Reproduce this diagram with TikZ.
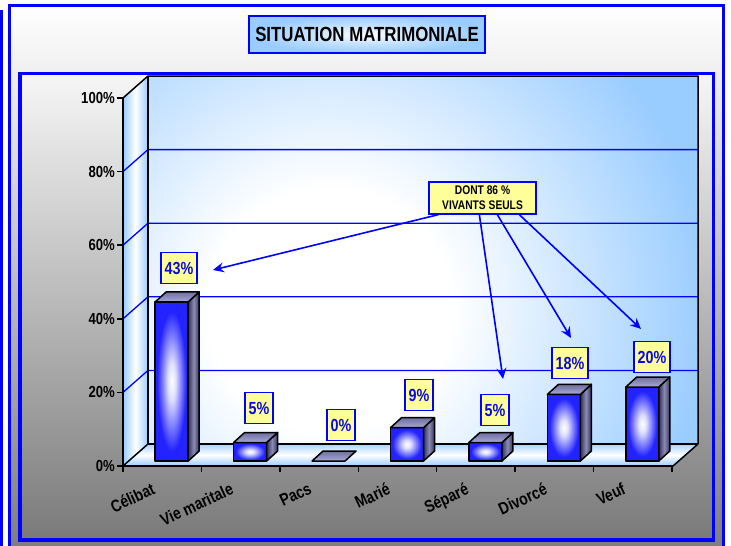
\documentclass[tikz,border=0pt]{standalone}
\usepackage{fontspec}
\setmainfont{Liberation Sans}[FakeStretch=0.82]
\usetikzlibrary{arrows.meta}

\definecolor{frameblue}{RGB}{0,0,255}
\definecolor{wallblue}{RGB}{153,204,255}
\definecolor{barblue}{RGB}{35,35,255}
\definecolor{sidedark}{RGB}{50,50,100}
\definecolor{sidelight}{RGB}{140,140,175}
\definecolor{topdark}{RGB}{110,110,160}
\definecolor{toplight}{RGB}{170,170,215}
\definecolor{noteyellow}{RGB}{255,255,153}
\definecolor{valblue}{RGB}{10,10,230}
\definecolor{greytop}{RGB}{246,246,246}
\definecolor{greybottom}{RGB}{122,122,122}

\pgfdeclareradialshading{barglow}{\pgfpointorigin}{color(0bp)=(white); color(6bp)=(white!85!barblue); color(22bp)=(barblue); color(50bp)=(barblue)}
\pgfdeclareradialshading{wallglow}{\pgfpointorigin}{color(0bp)=(white); color(8bp)=(white); color(25bp)=(wallblue); color(50bp)=(wallblue)}
\pgfdeclareradialshading{titleglow}{\pgfpointorigin}{color(0bp)=(white); color(12bp)=(wallblue!55!white); color(25bp)=(wallblue); color(50bp)=(wallblue)}

\begin{document}
\begin{tikzpicture}[x=1pt,y=-1pt,
  frameline/.style={frameblue,line width=3.5pt},
  faceline/.style={black,line width=1.5pt,line join=round},
  gridline/.style={frameblue,line width=1.3pt},
  titlebox/.style={draw=frameblue,line width=1.5pt,shade,shading=titleglow,
    minimum width=236pt,minimum height=37pt,inner sep=0pt,
    font=\fontsize{20.5}{20.5}\selectfont\bfseries},
  valbox/.style={draw=frameblue,line width=1.3pt,fill=noteyellow,text=valblue,
    font=\fontsize{17.5}{17.5}\selectfont\bfseries,inner xsep=3.5pt,
    minimum height=31pt},
  notebox/.style={draw=frameblue,line width=1.3pt,fill=noteyellow,align=center,
    font=\fontsize{12.5}{15}\selectfont\bfseries,minimum width=107pt,
    minimum height=32pt,inner sep=1pt},
  ylab/.style={anchor=east,inner sep=0pt,font=\fontsize{16}{16}\selectfont\bfseries},
  catlab/.style={anchor=north east,rotate=25,inner sep=0pt,
    font=\fontsize{17}{17}\selectfont\bfseries},
  pointer/.style={frameblue,line width=1.6pt,
    -{Stealth[length=11pt,width=10pt,inset=4pt]}}]

\useasboundingbox (0,0) rectangle (731,546);
\fill[white] (0,0) rectangle (731,546);

% outer frame
\shade[top color=white,bottom color=greybottom] (9.5,5.5) rectangle (723.5,565);
\draw[frameline] (9.5,5.5) rectangle (723.5,565);
\draw[frameblue,line width=3pt] (1.5,10) -- (1.5,546);

% title
\node[titlebox] (title) at (367,34.5) {SITUATION MATRIMONIALE};

% inner chart frame
\shade[top color=greytop,bottom color=greybottom] (20,73.5) rectangle (713.5,540);
\draw[frameline] (20,73.5) rectangle (713.5,540);

% side wall, back wall, floor
\shade[left color=wallblue,right color=wallblue,middle color=white]
  (123,466) -- (123,98) -- (148,76) -- (148,444) -- cycle;
\fill[wallblue] (148,76) rectangle (698,444);
\begin{scope}
  \clip (148,76) rectangle (698,444);
  \shade[shading=wallglow] (330,310) circle (380);
\end{scope}
\shade[top color=wallblue!85!white,bottom color=wallblue,middle color=white]
  (123,466) -- (673,466) -- (698,444) -- (148,444) -- cycle;

% grid lines at 20 %, 40 %, 60 %, 80 %
\foreach \k in {1,2,3,4}{
  \pgfmathsetmacro\gy{466-73.6*\k}
  \draw[gridline] (123,\gy) -- (148,\gy-22) -- (698,\gy-22);
}

% wall and floor edges, axes, ticks
\draw[faceline] (123,98) -- (148,76) -- (698,76) -- (698,444);
\draw[faceline] (148,76) -- (148,444) -- (698,444);
\draw[faceline] (123,466) -- (148,444);
\draw[faceline] (673,466) -- (698,444);
\draw[faceline] (123,98) -- (123,466) -- (673,466);
\foreach \k in {0,...,5}{
  \draw[faceline] (117,466-73.6*\k) -- (123,466-73.6*\k);
  \node[ylab] (y\k) at (115,466-73.6*\k) {\the\numexpr\k*20\relax\%};
}
\foreach \i in {0,...,7}{
  \draw[faceline] (123+78.43*\i,466) -- (123+78.43*\i,472);
}

% bars
\foreach \i/\v in {0/43,1/5,2/0,3/9,4/5,5/18,6/20}{
  \pgfmathsetmacro\xl{123+78.43*(\i+0.5)-7}
  \pgfmathsetmacro\yt{461-3.7*\v}
  \ifnum\v>0
    \shade[shading=barglow] (\xl,461) rectangle (\xl+33,\yt);
    \draw[faceline] (\xl,461) rectangle (\xl+33,\yt);
    \shade[left color=sidedark,right color=sidedark,middle color=sidelight]
      (\xl+33,461) -- (\xl+44,451) -- (\xl+44,\yt-10) -- (\xl+33,\yt) -- cycle;
    \draw[faceline] (\xl+33,461) -- (\xl+44,451) -- (\xl+44,\yt-10) -- (\xl+33,\yt) -- cycle;
  \fi
  \shade[top color=topdark,bottom color=toplight]
    (\xl,\yt) -- (\xl+33,\yt) -- (\xl+44,\yt-10) -- (\xl+11,\yt-10) -- cycle;
  \draw[faceline] (\xl,\yt) -- (\xl+33,\yt) -- (\xl+44,\yt-10) -- (\xl+11,\yt-10) -- cycle;
}

% value labels
\node[valbox] (v1) at (179,268) {43\%};
\node[valbox] (v2) at (259,408) {5\%};
\node[valbox] (v3) at (341,425) {0\%};
\node[valbox] (v4) at (419,395) {9\%};
\node[valbox] (v5) at (495,410) {5\%};
\node[valbox] (v6) at (570,363) {18\%};
\node[valbox] (v7) at (652,357) {20\%};

% note and its pointers
\node[notebox] (note) at (482.5,198) {DONT 86 \%\\VIVANTS SEULS};
\coordinate (s1) at ([xshift=10pt]note.south west);
\coordinate (s2) at ([xshift=51pt]note.south west);
\coordinate (s3) at ([xshift=69pt]note.south west);
\coordinate (s4) at ([xshift=91pt]note.south west);
\coordinate (t1) at (213,270);
\coordinate (t2) at (503,379);
\coordinate (t3) at (571,338);
\coordinate (t4) at (641,329);
\draw[pointer] (s1) -- (t1);
\draw[pointer] (s2) -- (t2);
\draw[pointer] (s3) -- (t3);
\draw[pointer] (s4) -- (t4);

% category names
\foreach \i/\name in {0/Célibat,1/Vie maritale,2/Pacs,3/Marié,4/Séparé,5/Divorcé,6/Veuf}{
  \node[catlab] (c\i) at (123+78.43*\i+28,482) {\name};
}
\end{tikzpicture}
\end{document}
